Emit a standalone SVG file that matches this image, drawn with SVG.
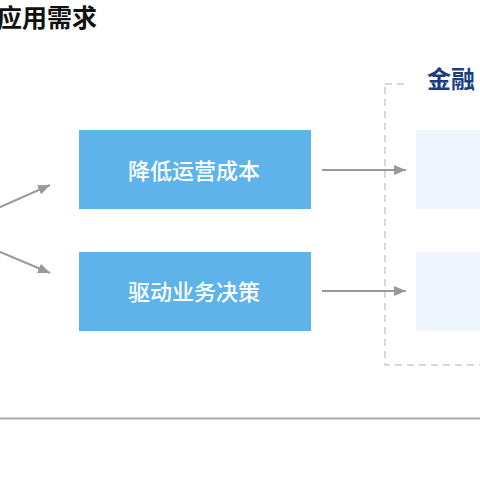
<svg xmlns="http://www.w3.org/2000/svg" width="480" height="480" viewBox="0 0 480 480">
<style>
.t{font-family:"Noto Sans CJK SC","Noto Sans",sans-serif;}
.box{fill:#5DB3EA;}
.lbox{fill:#EEF5FD;}
.lbl{fill:#fff;font-size:22px;font-weight:500;text-anchor:middle;}
.conn{stroke:#999;stroke-width:2;fill:none;marker-end:url(#ah);}
</style>
<defs>
<marker id="ah" viewBox="0 0 12 10" refX="12" refY="5" markerWidth="12" markerHeight="10" markerUnits="userSpaceOnUse" orient="auto">
<path d="M0,0 L12,5 L0,10 Z" fill="#999"/>
</marker>
</defs>
<rect width="480" height="480" fill="#fff"/>
<text class="t" x="-3" y="27" font-size="25" font-weight="bold" fill="#111">应用需求</text>
<g id="frame">
<rect x="385" y="84" width="120" height="281" fill="none" stroke="#ccc" stroke-width="1.5" stroke-dasharray="7 5"/>
<rect x="409" y="66" width="80" height="30" fill="#fff"/>
<text class="t" x="427" y="88" font-size="24" font-weight="bold" fill="#1B3F7E">金融</text>
</g>
<g id="node1"><rect class="box" x="79" y="130" width="232" height="79"/><text class="t lbl" x="194" y="179">降低运营成本</text></g>
<g id="node2"><rect class="box" x="79" y="252" width="232" height="79"/><text class="t lbl" x="194" y="300">驱动业务决策</text></g>
<g id="node3"><rect class="lbox" x="416" y="130" width="70" height="79"/></g>
<g id="node4"><rect class="lbox" x="416" y="252" width="70" height="79"/></g>
<g id="connectors">
<line class="conn" x1="-2" y1="208" x2="50" y2="185"/>
<line class="conn" x1="-2" y1="251" x2="50" y2="273"/>
<line class="conn" x1="322" y1="170" x2="406" y2="170"/>
<line class="conn" x1="322" y1="291" x2="406" y2="291"/>
</g>
<line x1="0" y1="418.5" x2="480" y2="418.5" stroke="#aaa" stroke-width="2"/>
</svg>
